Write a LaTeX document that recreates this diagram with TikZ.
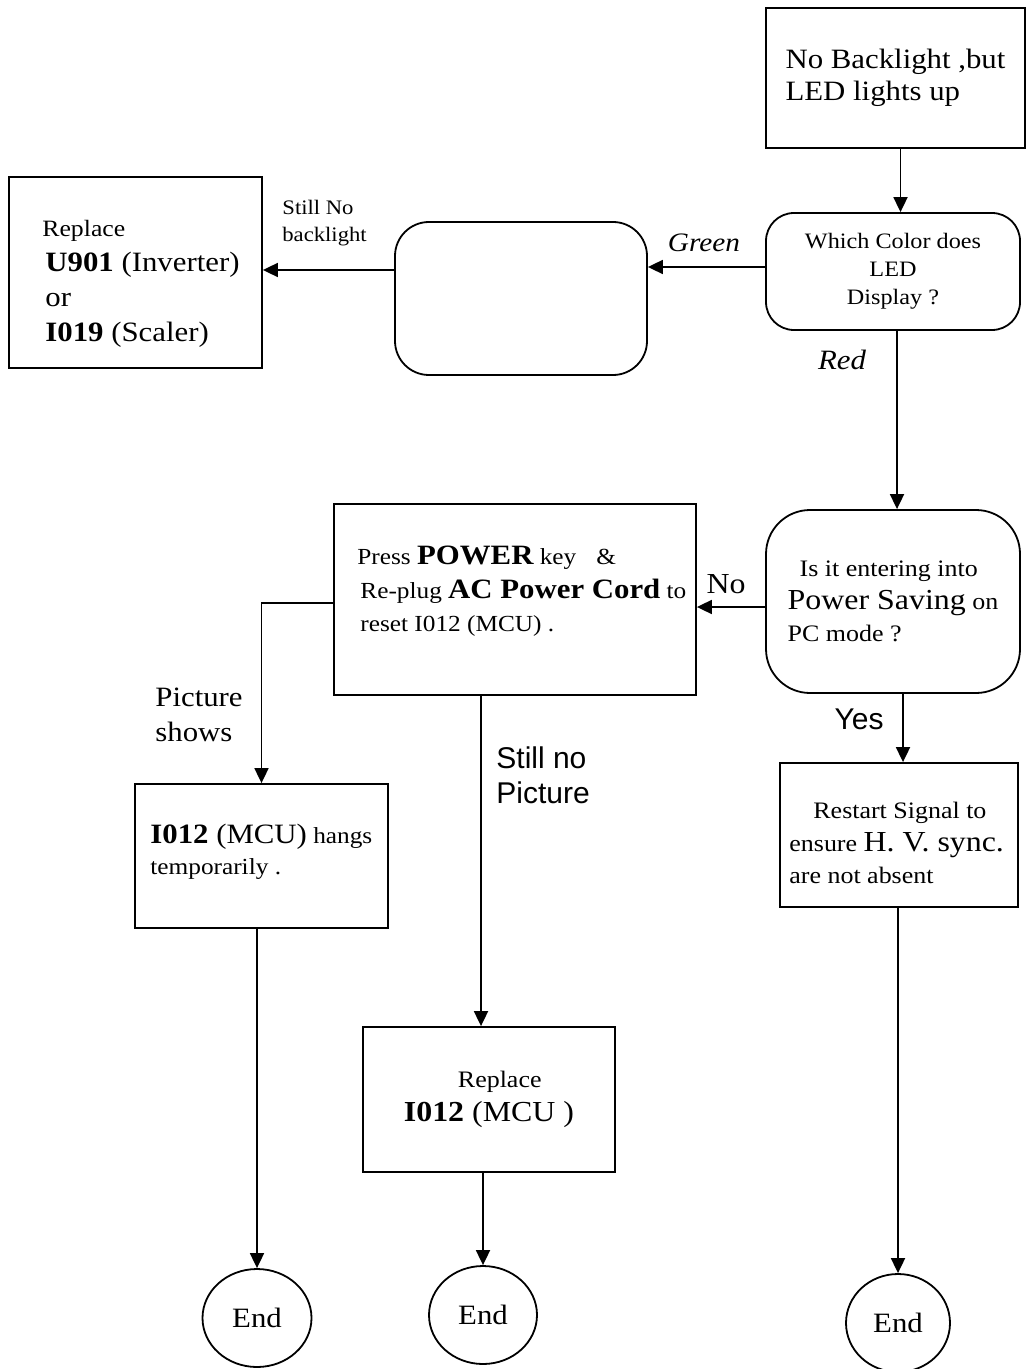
\documentclass[tikz,border=0pt]{standalone}
\usepackage{fontspec}
\setmainfont{Liberation Serif}[FakeStretch=1.1]
\newfontfamily\narrowsf{Liberation Sans}
\usetikzlibrary{shapes,arrows.meta}
\newcommand\bigf{\fontsize{14}{17}\selectfont}
\tikzset{
  block/.style={
    rectangle,
    draw=black, line width=0.9pt,
    inner sep=0pt
  },
  rblock/.style={block, rounded corners=#1},
  endnode/.style={
    ellipse,
    draw=black, line width=0.9pt,
    inner sep=0pt,
    font=\fontsize{14}{16}\selectfont
  },
  txt/.style={inner sep=0pt, align=left},
  flow/.style={->, line width=0.9pt, >={Triangle[length=7.5pt,width=7pt]}},
}

\begin{document}
\begin{tikzpicture}[x=0.5pt,y=-0.5pt]
  \useasboundingbox (0,0) rectangle (1027,1369);

  % right column
  \node[block, minimum width=129.5pt, minimum height=70pt, align=left,
        font=\fontsize{14}{16}\selectfont] (top) at (895.5,78)
        {No Backlight ,but\\LED lights up};
  \node[rblock=14pt, minimum width=127pt, minimum height=58.5pt, align=center,
        font=\fontsize{11}{14}\selectfont] (color) at (893,271.5)
        {Which Color does\\LED\\Display ?};
  \node[rblock=22pt, minimum width=127pt, minimum height=91.5pt, align=left,
        font=\fontsize{11.8}{16.25}\selectfont] (save) at (893,601.5)
        {\hspace{6pt}Is it entering into\\{\fontsize{14.5}{16}\selectfont Power Saving} on\\PC mode ?};
  \node[block, minimum width=119pt, minimum height=72pt] (restart) at (899,835) {};
  \node[txt, anchor=north west, font=\fontsize{11.8}{16.25}\selectfont] (restart-t) at (789,802)
        {\hspace{12pt}Restart Signal to\\ensure {\fontsize{14.5}{16}\selectfont H. V. sync.}\\are not absent};

  % green branch
  \node[rblock=17pt, minimum width=126pt, minimum height=76.5pt] (blank) at (521,298.5) {};
  \node[block, minimum width=126.5pt, minimum height=95.5pt] (replA) at (135.5,272.5) {};
  \node[txt, anchor=north west, font=\fontsize{14}{17.5}\selectfont] (replA-t) at (42,220)
        {{\fontsize{11.7}{13}\selectfont Replace}\\\hspace{1.5pt}\textbf{U901} (Inverter)\\\hspace{1.5pt}or\\\hspace{1.5pt}\textbf{I019} (Scaler)};

  % red branch
  \node[block, minimum width=181pt, minimum height=95.5pt] (press) at (515,599.5) {};
  \node[txt, anchor=north west, font=\fontsize{11.5}{16.75}\selectfont] (press-t) at (357,546)
        {Press {\bigf\bfseries POWER} key\hspace{10pt}\&\\
         \hspace{1.5pt}Re-plug {\bigf\bfseries AC Power Cord} to\\
         \hspace{1.5pt}reset I012 (MCU) .};
  \node[block, minimum width=126.5pt, minimum height=72pt] (hangs) at (261.5,856) {};
  \node[txt, anchor=north west, font=\fontsize{11.5}{15.5}\selectfont] (hangs-t) at (150,824)
        {{\bigf\textbf{I012} (MCU)} hangs\\temporarily .};
  \node[block, minimum width=126pt, minimum height=72.5pt, align=left,
        font=\fontsize{11.8}{17}\selectfont] (replB) at (489,1099.5)
        {\hspace{27pt}Replace\\{\fontsize{14.5}{17}\selectfont\textbf{I012} (MCU )}};

  % ends
  \node[endnode, minimum width=54.5pt, minimum height=49pt] (end1) at (257,1318) {End};
  \node[endnode, minimum width=54pt, minimum height=49pt] (end2) at (483,1315) {End};
  \node[endnode, minimum width=52pt, minimum height=49pt] (end3) at (898,1323) {End};

  % labels
  \node[txt, anchor=north west, font=\fontsize{10.3}{13.5}\selectfont] (nobl) at (282,200) {Still No\\backlight};
  \node[inner sep=0pt, anchor=base, font=\fontsize{13.3}{16}\selectfont\itshape] (green) at (704,252) {Green};
  \node[inner sep=0pt, anchor=base, font=\fontsize{14}{16}\selectfont\itshape] (red) at (842,370) {Red};
  \node[inner sep=0pt, anchor=base, font=\fontsize{14.5}{16}\selectfont] (no) at (726,593) {No};
  \node[inner sep=0pt, anchor=base, font=\fontsize{15}{16}\selectfont\narrowsf] (yes) at (859,729) {Yes};
  \node[txt, anchor=north west, font=\fontsize{14}{17.5}\selectfont] (shows) at (155,688) {Picture\\shows};
  \node[txt, anchor=north west, font=\fontsize{15}{17.5}\selectfont\narrowsf] (nopic) at (496,746) {Still no\\Picture};

  % connectors
  \draw[flow] ([xshift=2.5pt]top.south) -- ([xshift=2.5pt]top.south |- color.north);
  \draw[flow] ([yshift=2.25pt]color.west) -- ([yshift=2.25pt]color.west -| blank.east);
  \draw[flow] ([yshift=14.25pt]blank.west) -- ([yshift=14.25pt]blank.west -| replA.east);
  \draw[flow] ([xshift=2pt]color.south) -- ([xshift=2pt]color.south |- save.north);
  \draw[flow] ([yshift=-2.75pt]save.west) -- ([yshift=-2.75pt]save.west -| press.east);
  \draw[flow] ([xshift=5pt]save.south) -- ([xshift=5pt]save.south |- restart.north);
  \draw[flow] ([yshift=-1.75pt]press.west) -| (hangs.north);
  \draw[flow] ([xshift=-4pt]replB.north |- press.south) -- ([xshift=-4pt]replB.north);
  \draw[flow] (hangs.south -| end1.north) -- (end1.north);
  \draw[flow] (replB.south -| end2.north) -- (end2.north);
  \draw[flow] (restart.south -| end3.north) -- (end3.north);
\end{tikzpicture}
\end{document}
